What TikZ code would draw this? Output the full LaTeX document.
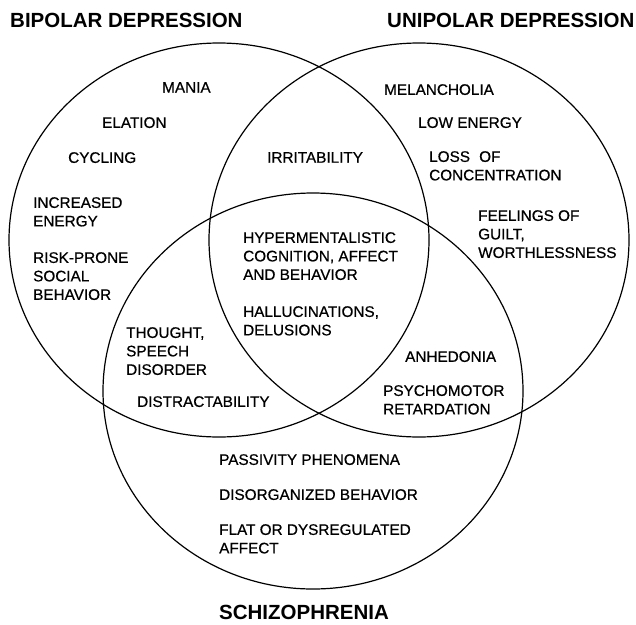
\documentclass[tikz,border=0pt]{standalone}
\usepackage{fontspec}
\setmainfont{Liberation Sans}
\newfontfamily\medfont[FakeBold=0.6]{Liberation Sans}
\begin{document}
\begin{tikzpicture}[x=1pt,y=-1pt,
  ring/.style={line width=1.2pt},
  lbl/.style={anchor=north west, inner sep=0pt, align=left, font=\medfont\fontsize{15.3}{18.5}\selectfont},
  ttl/.style={anchor=north west, inner sep=0pt, font=\fontsize{20.5}{24}\bfseries\selectfont}]
\useasboundingbox (0,0) rectangle (636,624);
% sets
\draw[ring] (219,240) ellipse [x radius=210pt, y radius=197pt];
\draw[ring] (419,240) ellipse [x radius=210pt, y radius=197pt];
\draw[ring] (313,391) ellipse [x radius=210pt, y radius=198pt];
% titles
\node[ttl] (tbip) at (10,13.3) {BIPOLAR DEPRESSION};
\node[ttl] (tuni) at (387,13.3) {UNIPOLAR DEPRESSION};
\node[ttl] (tsch) at (219,605.3) {SCHIZOPHRENIA};
% bipolar only
\node[lbl] (mania) at (162,82) {MANIA};
\node[lbl] (elat) at (102,117) {ELATION};
\node[lbl] (cyc) at (68,152) {CYCLING};
\node[lbl] (incr) at (33,197) {INCREASED\\ENERGY};
\node[lbl] (risk) at (33,252) {RISK-PRONE\\SOCIAL\\BEHAVIOR};
% bipolar & unipolar
\node[lbl] (irr) at (267,152) {IRRITABILITY};
% all three
\node[lbl] (hyper) at (243,232) {HYPERMENTALISTIC\\COGNITION, AFFECT\\AND BEHAVIOR};
\node[lbl] (hall) at (243,306) {HALLUCINATIONS,\\DELUSIONS};
% unipolar only
\node[lbl] (mel) at (384,84) {MELANCHOLIA};
\node[lbl] (low) at (418,117) {LOW ENERGY};
\node[lbl] (loss) at (429,151) {LOSS\hspace{0.6em}OF\\CONCENTRATION};
\node[lbl] (feel) at (478,210) {FEELINGS OF\\GUILT,\\WORTHLESSNESS};
% bipolar & schizophrenia
\node[lbl] (thou) at (126,327) {THOUGHT,\\SPEECH\\DISORDER};
\node[lbl] (dist) at (137,396) {DISTRACTABILITY};
% unipolar & schizophrenia
\node[lbl] (anh) at (405,351) {ANHEDONIA};
\node[lbl] (psy) at (383,385) {PSYCHOMOTOR\\RETARDATION};
% schizophrenia only
\node[lbl] (pass) at (219,454) {PASSIVITY PHENOMENA};
\node[lbl] (dis) at (219,489) {DISORGANIZED BEHAVIOR};
\node[lbl] (flat) at (219,524) {FLAT OR DYSREGULATED\\AFFECT};
\end{tikzpicture}
\end{document}
